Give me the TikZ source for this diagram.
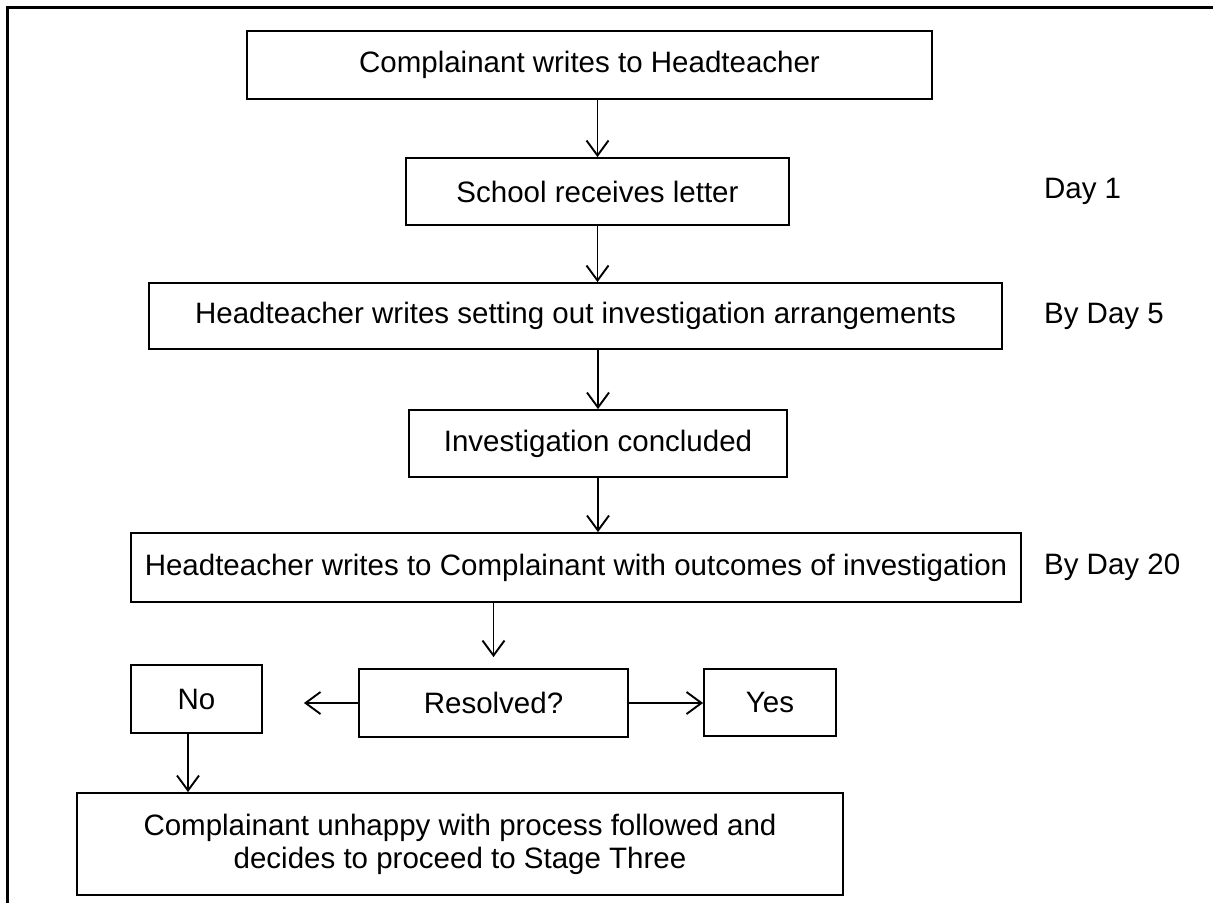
\documentclass[tikz,border=0pt]{standalone}
\usepackage{fontspec}
\setmainfont{Liberation Sans}
\usepackage{tikz}
\usetikzlibrary{positioning}
\usetikzlibrary{shapes,arrows,calc,arrows.meta}

\begin{document}
\begin{tikzpicture}[x=1pt, y=-1pt, font=\fontsize{29.5}{33}\selectfont,
        box/.style={draw, line width=1.8pt, inner sep=0pt, align=center},
        link/.style={-{Straight Barb[length=15pt,width=22pt]}, line width=1.9pt},
        daylabel/.style={inner sep=0pt, anchor=west}]
        \useasboundingbox (0,0) rectangle (1213,903);

        % Page frame
        \draw[line width=3pt] (7,903) -- (7,7) -- (1213,7);

        % Define the nodes
        \node[box, minimum width=685pt, minimum height=68pt] (node1) at (589.5,65) {Complainant writes to Headteacher};
        \node[box, minimum width=383pt, minimum height=67pt] (node2) at (597.5,191.5) {School receives letter};
        \node[box, minimum width=853pt, minimum height=66pt] (node3) at (575.5,316) {Headteacher writes setting out investigation arrangements};
        \node[box, minimum width=378pt, minimum height=67pt] (node4) at (598,443.5) {Investigation concluded};
        \node[box, minimum width=890pt, minimum height=69pt] (node5) at (576,567.5) {Headteacher writes to Complainant with outcomes of investigation};
        \node[box, minimum width=269pt, minimum height=68pt] (node6) at (493.5,703) {Resolved?};
        \node[box, minimum width=131pt, minimum height=68pt] (nodeNo) at (196.5,699) {No};
        \node[box, minimum width=132pt, minimum height=67pt] (nodeYes) at (770,702.5) {Yes};
        \node[box, minimum width=766pt, minimum height=102pt] (nodeEnd) at (460,844) {Complainant unhappy with process followed and\\decides to proceed to Stage Three};

        % Day labels
        \node[daylabel, right=254pt of node2] (day1) {Day 1};
        \node[daylabel, right=41pt of node3] (day5) {By Day 5};
        \node[daylabel, right=22pt of node5] (day20) {By Day 20};

        % Draw the links
        \draw[link] (node2.north |- node1.south) -- (node2.north);
        \draw[link] (node2.south) -- (node2.south |- node3.north);
        \draw[link] (node4.north |- node3.south) -- (node4.north);
        \draw[link] (node4.south) -- (node4.south |- node5.north);
        \draw[link, shorten >=11pt] (node6.north |- node5.south) -- (node6.north);
        \draw[link, shorten >=41pt] (node6.west) -- (nodeNo.east |- node6.west);
        \draw[link] (node6.east) -- (nodeYes.west |- node6.east);
        \draw[link] ([xshift=-8.5pt]nodeNo.south) -- ([xshift=-8.5pt]nodeNo.south |- nodeEnd.north);
    \end{tikzpicture}
\end{document}
